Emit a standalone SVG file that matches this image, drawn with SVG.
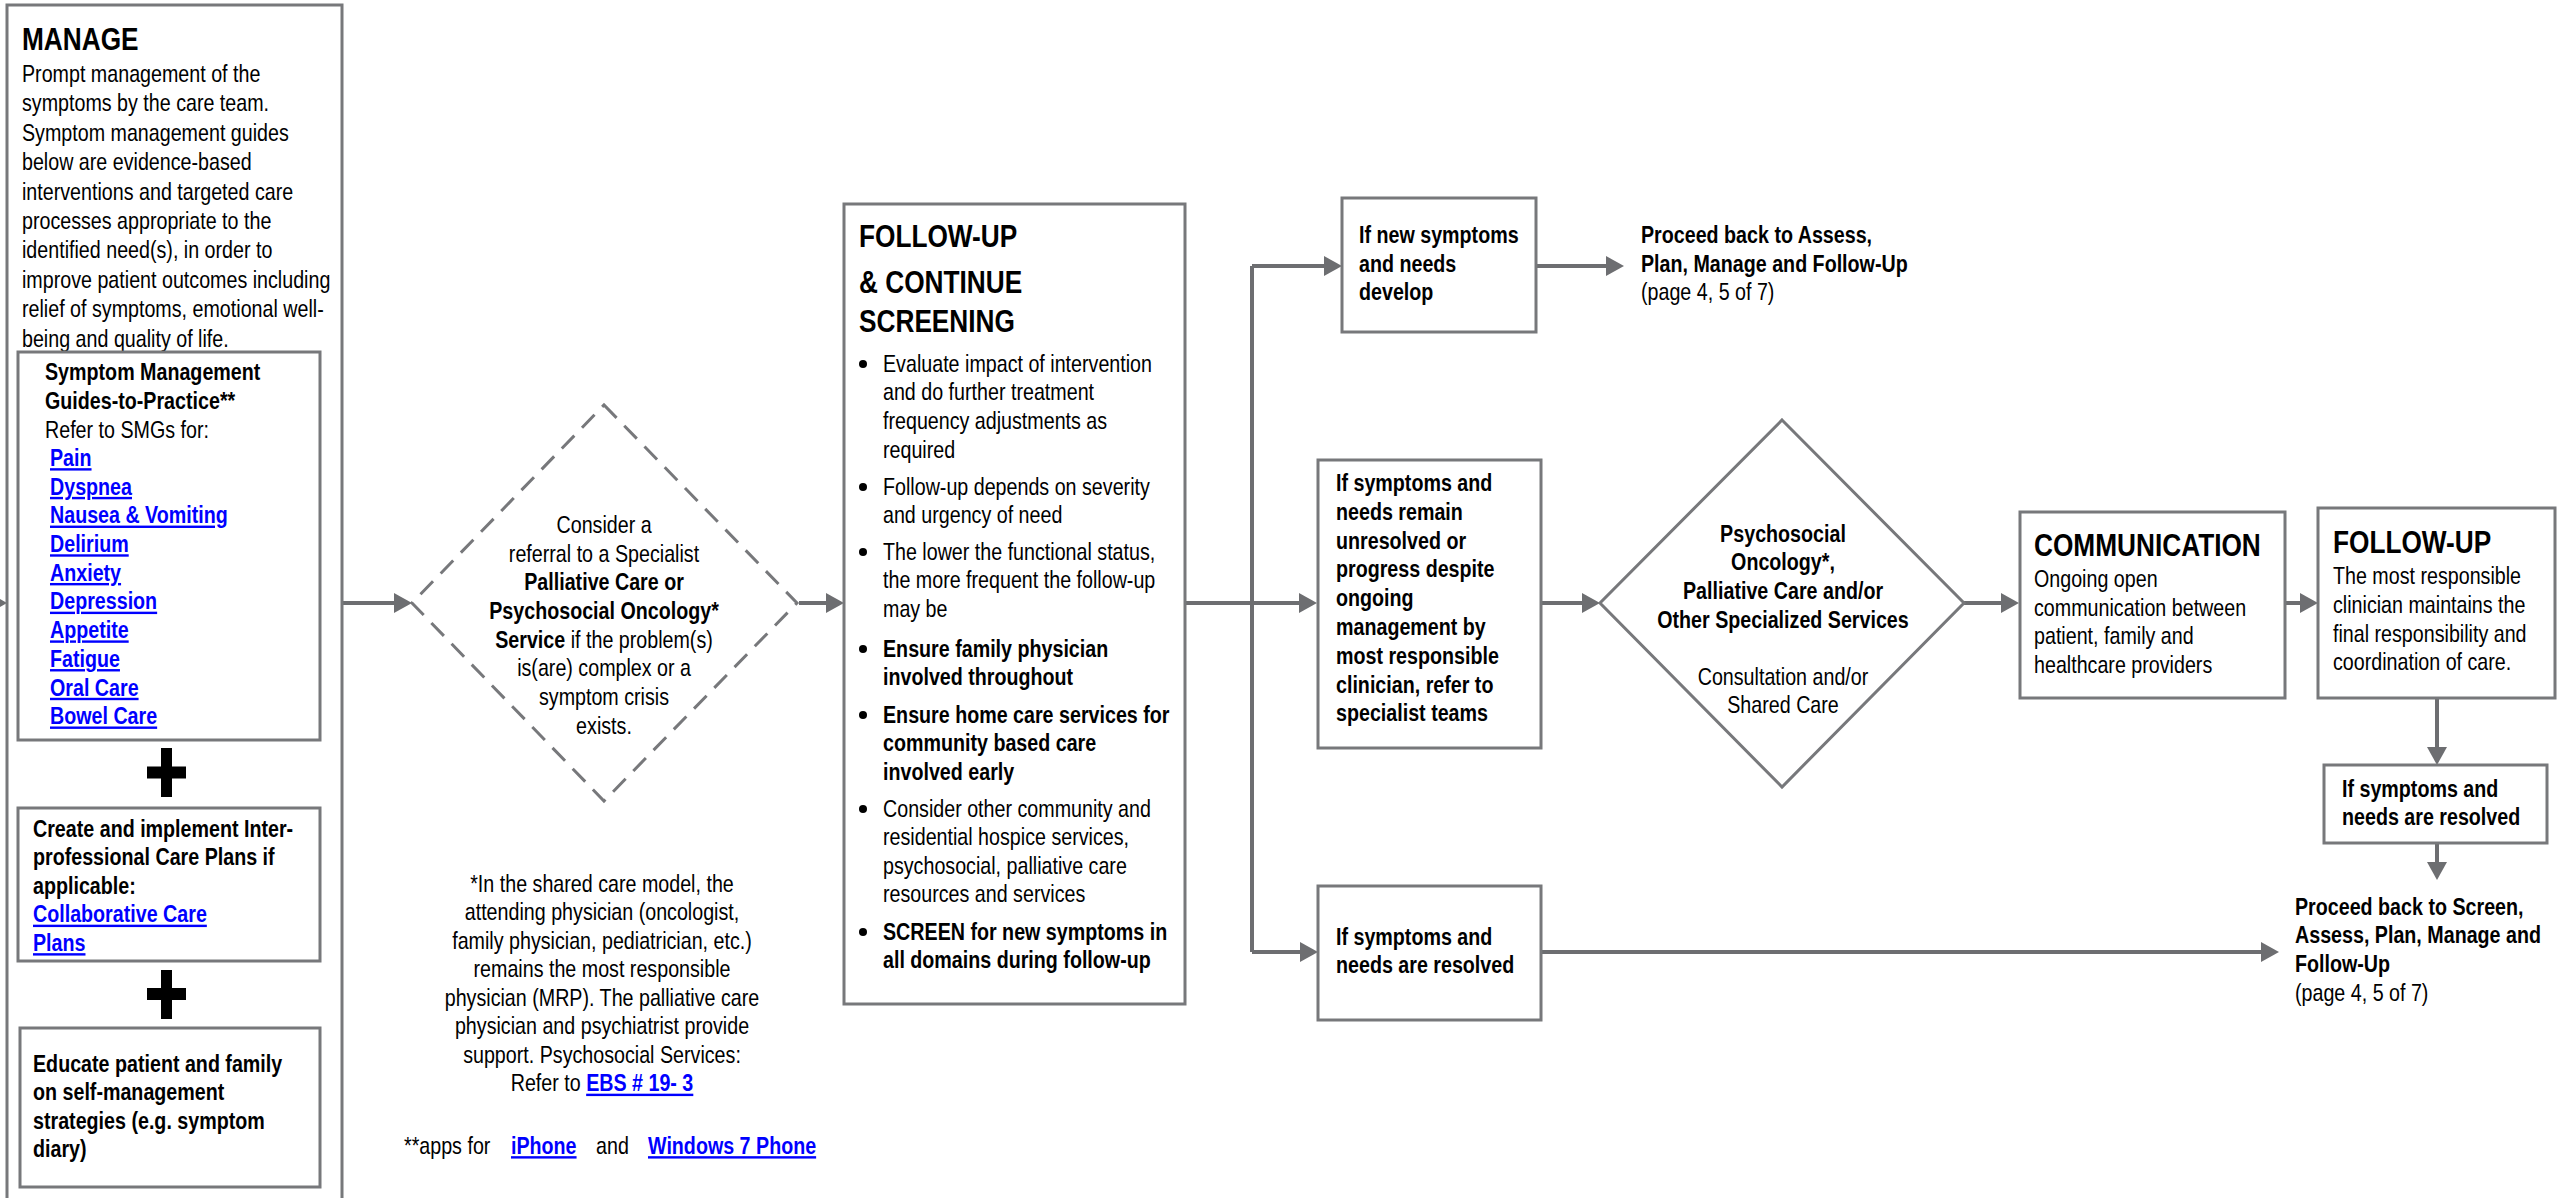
<svg xmlns="http://www.w3.org/2000/svg" width="2566" height="1198" viewBox="0 0 2566 1198">
<defs>
<style>
.box{fill:#fff;stroke:#77787b;stroke-width:3}
.dash{fill:#fff;stroke:#77787b;stroke-width:3;stroke-dasharray:18 11}
.conn{fill:none;stroke:#6d6e71;stroke-width:4}
text{font-family:"Liberation Sans",Arial,sans-serif;font-size:24px;fill:#000;transform-box:fill-box;transform-origin:0% 0%;transform:scaleX(0.82)}
.b{font-weight:bold}
.h{font-size:32px;font-weight:bold}
.lk{fill:#0000ff;font-weight:bold;text-decoration:underline}
.c{text-anchor:middle;transform-origin:50% 0%}
.plus{fill:#000}
</style>
<marker id="ah" markerUnits="userSpaceOnUse" markerWidth="18" markerHeight="20" refX="2" refY="10" orient="auto">
<path d="M0,0 L18,10 L0,20 z" fill="#6d6e71"/>
</marker>
</defs>
<rect width="2566" height="1198" fill="#fff"/>

<g id="connectors">
<path class="conn" d="M-40,603 H-9" marker-end="url(#ah)"/>
<path class="conn" d="M342,603 H396" marker-end="url(#ah)"/>
<path class="conn" d="M799,603 H828" marker-end="url(#ah)"/>
<path class="conn" d="M1185,603 H1301" marker-end="url(#ah)"/>
<path class="conn" d="M1252,266 V952"/>
<path class="conn" d="M1252,266 H1326" marker-end="url(#ah)"/>
<path class="conn" d="M1252,952 H1302" marker-end="url(#ah)"/>
<path class="conn" d="M1536,266 H1608" marker-end="url(#ah)"/>
<path class="conn" d="M1541,603 H1584" marker-end="url(#ah)"/>
<path class="conn" d="M1964,603 H2003" marker-end="url(#ah)"/>
<path class="conn" d="M2285,603 H2302" marker-end="url(#ah)"/>
<path class="conn" d="M2437,698 V749" marker-end="url(#ah)"/>
<path class="conn" d="M2437,843 V864" marker-end="url(#ah)"/>
<path class="conn" d="M1541,952 H2263" marker-end="url(#ah)"/>
</g>

<g id="manage">
<rect class="box" x="7" y="5" width="335" height="1210"/>
<text class="h" x="22" y="50">MANAGE</text>
<text x="22" y="82">Prompt management of the</text>
<text x="22" y="111.4">symptoms by the care team.</text>
<text x="22" y="140.8">Symptom management guides</text>
<text x="22" y="170.2">below are evidence-based</text>
<text x="22" y="199.6">interventions and targeted care</text>
<text x="22" y="229">processes appropriate to the</text>
<text x="22" y="258.4">identified need(s), in order to</text>
<text x="22" y="287.8">improve patient outcomes including</text>
<text x="22" y="317.2">relief of symptoms, emotional well-</text>
<text x="22" y="346.6">being and quality of life.</text>
</g>

<g id="smg">
<rect class="box" x="18" y="352" width="302" height="388"/>
<text class="b" x="45" y="380">Symptom Management</text>
<text class="b" x="45" y="409">Guides-to-Practice**</text>
<text x="45" y="438">Refer to SMGs for:</text>
<text class="lk" x="50" y="466">Pain</text>
<text class="lk" x="50" y="494.7">Dyspnea</text>
<text class="lk" x="50" y="523.4">Nausea &amp; Vomiting</text>
<text class="lk" x="50" y="552.1">Delirium</text>
<text class="lk" x="50" y="580.8">Anxiety</text>
<text class="lk" x="50" y="609.5">Depression</text>
<text class="lk" x="50" y="638.2">Appetite</text>
<text class="lk" x="50" y="666.9">Fatigue</text>
<text class="lk" x="50" y="695.6">Oral Care</text>
<text class="lk" x="50" y="724.3">Bowel Care</text>
</g>

<g id="plus1">
<rect class="plus" x="147" y="766.5" width="39" height="12"/>
<rect class="plus" x="161" y="748" width="11" height="49"/>
</g>

<g id="careplans">
<rect class="box" x="18" y="808" width="302" height="153"/>
<text class="b" x="33" y="837">Create and implement Inter-</text>
<text class="b" x="33" y="865.5">professional Care Plans if</text>
<text class="b" x="33" y="894">applicable:</text>
<text class="lk" x="33" y="922.5">Collaborative Care</text>
<text class="lk" x="33" y="951">Plans</text>
</g>

<g id="plus2">
<rect class="plus" x="147" y="988" width="39" height="12"/>
<rect class="plus" x="161" y="970" width="11" height="49"/>
</g>

<g id="educate">
<rect class="box" x="20" y="1028" width="300" height="159"/>
<text class="b" x="33" y="1072">Educate patient and family</text>
<text class="b" x="33" y="1100.5">on self-management</text>
<text class="b" x="33" y="1129">strategies (e.g. symptom</text>
<text class="b" x="33" y="1157.5">diary)</text>
</g>

<g id="referral">
<polygon class="dash" points="604,405 797,603 604,801 412,603"/>
<text class="c" x="604" y="533">Consider a</text>
<text class="c" x="604" y="561.7">referral to a Specialist</text>
<text class="c b" x="604" y="590.4">Palliative Care or</text>
<text class="c b" x="604" y="619.1">Psychosocial Oncology*</text>
<text class="c" x="604" y="647.8"><tspan class="b">Service</tspan> if the problem(s)</text>
<text class="c" x="604" y="676.5">is(are) complex or a</text>
<text class="c" x="604" y="705.2">symptom crisis</text>
<text class="c" x="604" y="733.9">exists.</text>
</g>

<g id="footnote">
<text class="c" x="602" y="892">*In the shared care model, the</text>
<text class="c" x="602" y="920.5">attending physician (oncologist,</text>
<text class="c" x="602" y="949">family physician, pediatrician, etc.)</text>
<text class="c" x="602" y="977.5">remains the most responsible</text>
<text class="c" x="602" y="1006">physician (MRP). The palliative care</text>
<text class="c" x="602" y="1034.5">physician and psychiatrist provide</text>
<text class="c" x="602" y="1063">support.  Psychosocial Services:</text>
<text class="c" x="602" y="1091.5">Refer to <tspan class="lk">EBS # 19- 3</tspan></text>
<text x="404" y="1154">**apps for</text>
<text class="lk" x="511" y="1154">iPhone</text>
<text x="596" y="1154">and</text>
<text class="lk" x="648" y="1154">Windows 7 Phone</text>
</g>

<g id="followup">
<rect class="box" x="844" y="204" width="341" height="800"/>
<text class="h" x="859" y="247">FOLLOW-UP</text>
<text class="h" x="859" y="293">&amp; CONTINUE</text>
<text class="h" x="859" y="332">SCREENING</text>
<circle cx="863" cy="364" r="4"/>
<text x="883" y="372">Evaluate impact of intervention</text>
<text x="883" y="400.5">and do further treatment</text>
<text x="883" y="429">frequency adjustments as</text>
<text x="883" y="458">required</text>
<circle cx="863" cy="487" r="4"/>
<text x="883" y="495">Follow-up depends on severity</text>
<text x="883" y="523.5">and urgency of need</text>
<circle cx="863" cy="552" r="4"/>
<text x="883" y="560">The lower the functional status,</text>
<text x="883" y="588.5">the more frequent the follow-up</text>
<text x="883" y="617">may be</text>
<circle cx="863" cy="649" r="4"/>
<text class="b" x="883" y="657">Ensure family physician</text>
<text class="b" x="883" y="685.5">involved throughout</text>
<circle cx="863" cy="715" r="4"/>
<text class="b" x="883" y="723">Ensure home care services for</text>
<text class="b" x="883" y="751.5">community based care</text>
<text class="b" x="883" y="780">involved early</text>
<circle cx="863" cy="809" r="4"/>
<text x="883" y="817">Consider other community and</text>
<text x="883" y="845.5">residential hospice services,</text>
<text x="883" y="874">psychosocial, palliative care</text>
<text x="883" y="902.5">resources and services</text>
<circle cx="863" cy="932" r="4"/>
<text class="b" x="883" y="940">SCREEN for new symptoms in</text>
<text class="b" x="883" y="968.5">all domains during follow-up</text>
</g>

<g id="newsymptoms">
<rect class="box" x="1342" y="198" width="194" height="134"/>
<text class="b" x="1359" y="243">If new symptoms</text>
<text class="b" x="1359" y="272">and needs</text>
<text class="b" x="1359" y="300">develop</text>
</g>

<g id="proceed1">
<text class="b" x="1641" y="243">Proceed back to Assess,</text>
<text class="b" x="1641" y="272">Plan, Manage and Follow-Up</text>
<text x="1641" y="300">(page 4, 5 of 7)</text>
</g>

<g id="unresolved">
<rect class="box" x="1318" y="460" width="223" height="288"/>
<text class="b" x="1336" y="491">If symptoms and</text>
<text class="b" x="1336" y="519.8">needs remain</text>
<text class="b" x="1336" y="548.6">unresolved or</text>
<text class="b" x="1336" y="577.4">progress despite</text>
<text class="b" x="1336" y="606.2">ongoing</text>
<text class="b" x="1336" y="635">management by</text>
<text class="b" x="1336" y="663.8">most responsible</text>
<text class="b" x="1336" y="692.6">clinician, refer to</text>
<text class="b" x="1336" y="721.4">specialist teams</text>
</g>

<g id="specialized">
<polygon class="box" points="1782,420 1964,603 1782,787 1600,603"/>
<text class="c b" x="1783" y="542">Psychosocial</text>
<text class="c b" x="1783" y="570.5">Oncology*,</text>
<text class="c b" x="1783" y="599.5">Palliative Care and/or</text>
<text class="c b" x="1783" y="628">Other Specialized Services</text>
<text class="c" x="1783" y="685">Consultation and/or</text>
<text class="c" x="1783" y="713.5">Shared Care</text>
</g>

<g id="communication">
<rect class="box" x="2020" y="512" width="265" height="186"/>
<text class="h" x="2034" y="556">COMMUNICATION</text>
<text x="2034" y="587">Ongoing open</text>
<text x="2034" y="615.7">communication between</text>
<text x="2034" y="644.4">patient, family and</text>
<text x="2034" y="673.1">healthcare providers</text>
</g>

<g id="followup2">
<rect class="box" x="2318" y="508" width="237" height="190"/>
<text class="h" x="2333" y="553">FOLLOW-UP</text>
<text x="2333" y="584">The most responsible</text>
<text x="2333" y="613">clinician maintains the</text>
<text x="2333" y="642">final responsibility and</text>
<text x="2333" y="670">coordination of care.</text>
</g>

<g id="resolved2">
<rect class="box" x="2324" y="765" width="223" height="78"/>
<text class="b" x="2342" y="797">If symptoms and</text>
<text class="b" x="2342" y="825">needs are resolved</text>
</g>

<g id="resolved1">
<rect class="box" x="1318" y="886" width="223" height="134"/>
<text class="b" x="1336" y="945">If symptoms and</text>
<text class="b" x="1336" y="973">needs are resolved</text>
</g>

<g id="proceed2">
<text class="b" x="2295" y="915">Proceed back to Screen,</text>
<text class="b" x="2295" y="943.5">Assess, Plan, Manage and</text>
<text class="b" x="2295" y="972">Follow-Up</text>
<text x="2295" y="1001">(page 4, 5 of 7)</text>
</g>
</svg>
